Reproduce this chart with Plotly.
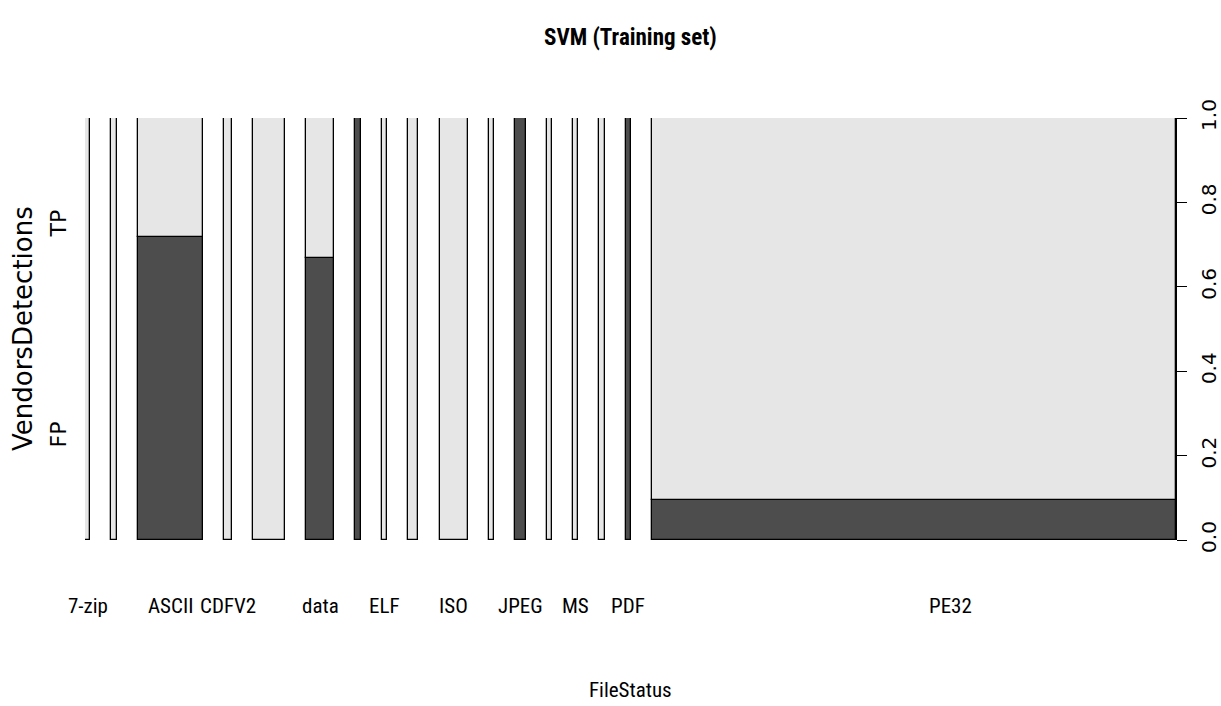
import plotly.graph_objects as go

# File types on the x axis (blank entries are types whose labels are crowded out)
file_types = ["7-zip", "", "ASCII", "CDFV2", "", "data", "", "ELF", "", "ISO",
              "", "JPEG", "", "MS", "", "PDF", "PE32"]
# Number of files per type (sets the width of each spine)
file_counts = [3, 3, 37, 5, 18, 16, 3, 3, 6, 16, 3, 6, 3, 3, 3, 3, 299]
# Share of FP detections within each file type
fp_share = [0.0, 0.0, 0.718, 0.0, 0.0, 0.668, 1.0, 0.0, 0.0, 0.0,
            0.0, 1.0, 0.0, 0.0, 0.0, 1.0, 0.095]
y_levels = ["FP", "TP"]
y_ticks = [0.0, 0.2, 0.4, 0.6, 0.8, 1.0]

DARK = "#4D4D4D"
LIGHT = "#E6E6E6"
NARROW = "Liberation Sans Narrow, Arial Narrow, Roboto Condensed, Liberation Sans, sans-serif"
WIDE = "DejaVu Sans, Verdana, sans-serif"

# spine layout: widths proportional to counts, constant gap between spines
total = sum(file_counts)
gap = 0.028 * total
lefts, x = [], 0.0
for c in file_counts:
    lefts.append(x)
    x += c + gap
x_max = x - gap
centers = [l + c / 2 for l, c in zip(lefts, file_counts)]
tp_share = [1 - f for f in fp_share]

fig = go.Figure()
fig.add_trace(go.Bar(
    x=centers, y=fp_share, base=[0] * len(fp_share), width=file_counts,
    marker=dict(color=DARK, line=dict(color="black", width=1.3)),
    name=y_levels[0], hoverinfo="skip", showlegend=False))
fig.add_trace(go.Bar(
    x=centers, y=tp_share, base=fp_share, width=file_counts,
    marker=dict(color=LIGHT, line=dict(color="black", width=1.3)),
    name=y_levels[1], hoverinfo="skip", showlegend=False))

annotations = []
# x category labels
for i, (lab, cx, c) in enumerate(zip(file_types, centers, file_counts)):
    if not lab:
        continue
    if i == len(file_types) - 1:
        cx = cx + 0.07 * c
    annotations.append(dict(
        x=cx, y=0, xref="x", yref="paper", yshift=-66, text=lab,
        showarrow=False, yanchor="middle", xanchor="center",
        font=dict(family=NARROW, size=21, color="black")))
# y level labels on the left
for lab, yv in zip(y_levels, [0.25, 0.75]):
    annotations.append(dict(
        x=0, y=yv, xref="paper", yref="y", xshift=-27, text=lab,
        showarrow=False, textangle=-90, xanchor="center", yanchor="middle",
        font=dict(family=WIDE, size=22, color="black")))
annotations.append(dict(
    x=0, y=0.5, xref="paper", yref="paper", xshift=-62, text="VendorsDetections",
    showarrow=False, textangle=-90, xanchor="center", yanchor="middle",
    font=dict(family=WIDE, size=26, color="black")))
annotations.append(dict(
    x=0.5, y=0, xref="paper", yref="paper", yshift=-150, text="FileStatus",
    showarrow=False, xanchor="center", yanchor="middle",
    font=dict(family=NARROW, size=21, color="black")))
annotations.append(dict(
    x=0.5, y=1, xref="paper", yref="paper", yshift=81, text="<b>SVM (Training set)</b>",
    showarrow=False, xanchor="center", yanchor="middle",
    font=dict(family=NARROW, size=23, color="black")))

fig.update_layout(
    width=1221, height=706,
    margin=dict(l=85, r=45, t=118, b=166, autoexpand=False),
    paper_bgcolor="white", plot_bgcolor="white",
    barmode="overlay", bargap=0,
    annotations=annotations,
    xaxis=dict(range=[0, x_max], showgrid=False, zeroline=False,
               showticklabels=False, ticks="", showline=False, automargin=False),
    yaxis=dict(range=[0, 1], side="right", tickvals=y_ticks,
               ticktext=[f"{v:.1f}" for v in y_ticks], tickangle=-90,
               ticks="outside", ticklen=10, tickcolor="black", tickwidth=1,
               showline=True, linecolor="black", linewidth=1.2,
               showgrid=False, zeroline=False, automargin=False,
               ticklabelstandoff=5,
               tickfont=dict(family=WIDE, size=20, color="black")),
)

fig.write_html("out.html")
